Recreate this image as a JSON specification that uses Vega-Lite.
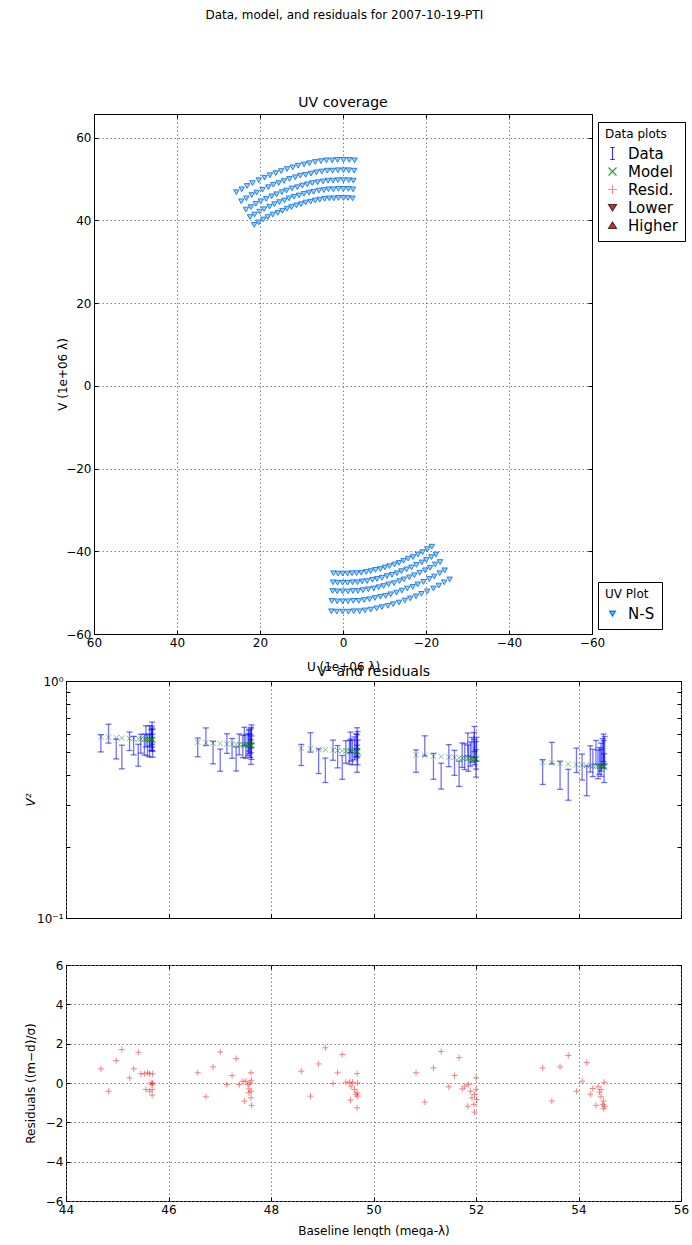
{
"$schema": "https://vega.github.io/schema/vega-lite/v6.json",
"background": "white",
"padding": {"left": 23, "top": 8, "right": 0, "bottom": 0},
"title": {"text": "Data, model, and residuals for 2007-10-19-PTI", "fontSize": 12, "fontWeight": "normal", "anchor": "middle", "offset": 74, "dx": -12},
"config": {
  "font": "DejaVu Sans",
  "view": {"stroke": "#000", "strokeWidth": 1},
  "axis": {"domain": false, "domainColor": "#000", "domainWidth": 1, "tickColor": "#000", "tickSize": -4, "labelPadding": 7, "labelFontSize": 12, "labelColor": "#000", "titleFontSize": 12, "titleFontWeight": "normal", "titleColor": "#000", "gridColor": "#777", "gridDash": [1.5, 2.5], "gridOpacity": 0.9, "labelFlush": false, "labelOverlap": false},
  "title": {"fontWeight": "normal", "fontSize": 14, "color": "#000"}
},
"datasets": {
"uv": [
{"u":25.7,"v":46.8,"b":"N-S"},{"u":24.4,"v":47.5,"b":"N-S"},{"u":23.1,"v":48.3,"b":"N-S"},{"u":21.8,"v":49.0,"b":"N-S"},{"u":20.3,"v":49.7,"b":"N-S"},{"u":18.9,"v":50.3,"b":"N-S"},{"u":17.6,"v":50.9,"b":"N-S"},{"u":16.2,"v":51.4,"b":"N-S"},{"u":14.9,"v":51.9,"b":"N-S"},{"u":13.5,"v":52.4,"b":"N-S"},{"u":12.1,"v":52.8,"b":"N-S"},{"u":10.8,"v":53.2,"b":"N-S"},{"u":9.4,"v":53.5,"b":"N-S"},{"u":8.1,"v":53.8,"b":"N-S"},{"u":6.7,"v":54.1,"b":"N-S"},{"u":5.3,"v":54.3,"b":"N-S"},{"u":4.0,"v":54.5,"b":"N-S"},{"u":2.6,"v":54.5,"b":"N-S"},{"u":1.3,"v":54.6,"b":"N-S"},{"u":-0.1,"v":54.6,"b":"N-S"},{"u":-1.5,"v":54.6,"b":"N-S"},{"u":-2.8,"v":54.5,"b":"N-S"},
{"u":24.5,"v":44.6,"b":"N-S"},{"u":23.3,"v":45.3,"b":"N-S"},{"u":22.0,"v":46.1,"b":"N-S"},{"u":20.8,"v":46.7,"b":"N-S"},{"u":19.4,"v":47.4,"b":"N-S"},{"u":18.0,"v":48.0,"b":"N-S"},{"u":16.8,"v":48.6,"b":"N-S"},{"u":15.5,"v":49.0,"b":"N-S"},{"u":14.2,"v":49.5,"b":"N-S"},{"u":12.9,"v":50.0,"b":"N-S"},{"u":11.5,"v":50.4,"b":"N-S"},{"u":10.3,"v":50.8,"b":"N-S"},{"u":9.0,"v":51.0,"b":"N-S"},{"u":7.7,"v":51.3,"b":"N-S"},{"u":6.4,"v":51.6,"b":"N-S"},{"u":5.1,"v":51.8,"b":"N-S"},{"u":3.8,"v":52.0,"b":"N-S"},{"u":2.5,"v":52.0,"b":"N-S"},{"u":1.2,"v":52.1,"b":"N-S"},{"u":-0.1,"v":52.1,"b":"N-S"},{"u":-1.4,"v":52.1,"b":"N-S"},{"u":-2.7,"v":52.0,"b":"N-S"},
{"u":23.4,"v":42.6,"b":"N-S"},{"u":22.2,"v":43.2,"b":"N-S"},{"u":21.0,"v":44.0,"b":"N-S"},{"u":19.8,"v":44.6,"b":"N-S"},{"u":18.5,"v":45.2,"b":"N-S"},{"u":17.2,"v":45.8,"b":"N-S"},{"u":16.0,"v":46.3,"b":"N-S"},{"u":14.7,"v":46.8,"b":"N-S"},{"u":13.6,"v":47.2,"b":"N-S"},{"u":12.3,"v":47.7,"b":"N-S"},{"u":11.0,"v":48.0,"b":"N-S"},{"u":9.8,"v":48.4,"b":"N-S"},{"u":8.6,"v":48.7,"b":"N-S"},{"u":7.4,"v":49.0,"b":"N-S"},{"u":6.1,"v":49.2,"b":"N-S"},{"u":4.8,"v":49.4,"b":"N-S"},{"u":3.6,"v":49.6,"b":"N-S"},{"u":2.4,"v":49.6,"b":"N-S"},{"u":1.2,"v":49.7,"b":"N-S"},{"u":-0.1,"v":49.7,"b":"N-S"},{"u":-1.4,"v":49.7,"b":"N-S"},{"u":-2.5,"v":49.6,"b":"N-S"},
{"u":22.4,"v":40.8,"b":"N-S"},{"u":21.3,"v":41.4,"b":"N-S"},{"u":20.1,"v":42.1,"b":"N-S"},{"u":19.0,"v":42.7,"b":"N-S"},{"u":17.7,"v":43.3,"b":"N-S"},{"u":16.5,"v":43.9,"b":"N-S"},{"u":15.3,"v":44.4,"b":"N-S"},{"u":14.1,"v":44.8,"b":"N-S"},{"u":13.0,"v":45.3,"b":"N-S"},{"u":11.8,"v":45.7,"b":"N-S"},{"u":10.6,"v":46.0,"b":"N-S"},{"u":9.4,"v":46.4,"b":"N-S"},{"u":8.2,"v":46.7,"b":"N-S"},{"u":7.1,"v":46.9,"b":"N-S"},{"u":5.8,"v":47.2,"b":"N-S"},{"u":4.6,"v":47.3,"b":"N-S"},{"u":3.5,"v":47.5,"b":"N-S"},{"u":2.3,"v":47.5,"b":"N-S"},{"u":1.1,"v":47.6,"b":"N-S"},{"u":-0.1,"v":47.6,"b":"N-S"},{"u":-1.3,"v":47.6,"b":"N-S"},{"u":-2.4,"v":47.5,"b":"N-S"},
{"u":21.4,"v":38.9,"b":"N-S"},{"u":20.3,"v":39.5,"b":"N-S"},{"u":19.2,"v":40.2,"b":"N-S"},{"u":18.1,"v":40.8,"b":"N-S"},{"u":16.9,"v":41.4,"b":"N-S"},{"u":15.7,"v":41.8,"b":"N-S"},{"u":14.6,"v":42.3,"b":"N-S"},{"u":13.5,"v":42.8,"b":"N-S"},{"u":12.4,"v":43.2,"b":"N-S"},{"u":11.2,"v":43.6,"b":"N-S"},{"u":10.1,"v":43.9,"b":"N-S"},{"u":9.0,"v":44.3,"b":"N-S"},{"u":7.8,"v":44.5,"b":"N-S"},{"u":6.7,"v":44.8,"b":"N-S"},{"u":5.6,"v":45.0,"b":"N-S"},{"u":4.4,"v":45.2,"b":"N-S"},{"u":3.3,"v":45.3,"b":"N-S"},{"u":2.2,"v":45.3,"b":"N-S"},{"u":1.1,"v":45.4,"b":"N-S"},{"u":-0.1,"v":45.4,"b":"N-S"},{"u":-1.2,"v":45.4,"b":"N-S"},{"u":-2.3,"v":45.3,"b":"N-S"},
{"u":-25.7,"v":-46.8,"b":"N-S"},{"u":-24.4,"v":-47.5,"b":"N-S"},{"u":-23.1,"v":-48.3,"b":"N-S"},{"u":-21.8,"v":-49.0,"b":"N-S"},{"u":-20.3,"v":-49.7,"b":"N-S"},{"u":-18.9,"v":-50.3,"b":"N-S"},{"u":-17.6,"v":-50.9,"b":"N-S"},{"u":-16.2,"v":-51.4,"b":"N-S"},{"u":-14.9,"v":-51.9,"b":"N-S"},{"u":-13.5,"v":-52.4,"b":"N-S"},{"u":-12.1,"v":-52.8,"b":"N-S"},{"u":-10.8,"v":-53.2,"b":"N-S"},{"u":-9.4,"v":-53.5,"b":"N-S"},{"u":-8.1,"v":-53.8,"b":"N-S"},{"u":-6.7,"v":-54.1,"b":"N-S"},{"u":-5.3,"v":-54.3,"b":"N-S"},{"u":-4.0,"v":-54.5,"b":"N-S"},{"u":-2.6,"v":-54.5,"b":"N-S"},{"u":-1.3,"v":-54.6,"b":"N-S"},{"u":0.1,"v":-54.6,"b":"N-S"},{"u":1.5,"v":-54.6,"b":"N-S"},{"u":2.8,"v":-54.5,"b":"N-S"},
{"u":-24.5,"v":-44.6,"b":"N-S"},{"u":-23.3,"v":-45.3,"b":"N-S"},{"u":-22.0,"v":-46.1,"b":"N-S"},{"u":-20.8,"v":-46.7,"b":"N-S"},{"u":-19.4,"v":-47.4,"b":"N-S"},{"u":-18.0,"v":-48.0,"b":"N-S"},{"u":-16.8,"v":-48.6,"b":"N-S"},{"u":-15.5,"v":-49.0,"b":"N-S"},{"u":-14.2,"v":-49.5,"b":"N-S"},{"u":-12.9,"v":-50.0,"b":"N-S"},{"u":-11.5,"v":-50.4,"b":"N-S"},{"u":-10.3,"v":-50.8,"b":"N-S"},{"u":-9.0,"v":-51.0,"b":"N-S"},{"u":-7.7,"v":-51.3,"b":"N-S"},{"u":-6.4,"v":-51.6,"b":"N-S"},{"u":-5.1,"v":-51.8,"b":"N-S"},{"u":-3.8,"v":-52.0,"b":"N-S"},{"u":-2.5,"v":-52.0,"b":"N-S"},{"u":-1.2,"v":-52.1,"b":"N-S"},{"u":0.1,"v":-52.1,"b":"N-S"},{"u":1.4,"v":-52.1,"b":"N-S"},{"u":2.7,"v":-52.0,"b":"N-S"},
{"u":-23.4,"v":-42.6,"b":"N-S"},{"u":-22.2,"v":-43.2,"b":"N-S"},{"u":-21.0,"v":-44.0,"b":"N-S"},{"u":-19.8,"v":-44.6,"b":"N-S"},{"u":-18.5,"v":-45.2,"b":"N-S"},{"u":-17.2,"v":-45.8,"b":"N-S"},{"u":-16.0,"v":-46.3,"b":"N-S"},{"u":-14.7,"v":-46.8,"b":"N-S"},{"u":-13.6,"v":-47.2,"b":"N-S"},{"u":-12.3,"v":-47.7,"b":"N-S"},{"u":-11.0,"v":-48.0,"b":"N-S"},{"u":-9.8,"v":-48.4,"b":"N-S"},{"u":-8.6,"v":-48.7,"b":"N-S"},{"u":-7.4,"v":-49.0,"b":"N-S"},{"u":-6.1,"v":-49.2,"b":"N-S"},{"u":-4.8,"v":-49.4,"b":"N-S"},{"u":-3.6,"v":-49.6,"b":"N-S"},{"u":-2.4,"v":-49.6,"b":"N-S"},{"u":-1.2,"v":-49.7,"b":"N-S"},{"u":0.1,"v":-49.7,"b":"N-S"},{"u":1.4,"v":-49.7,"b":"N-S"},{"u":2.5,"v":-49.6,"b":"N-S"},
{"u":-22.4,"v":-40.8,"b":"N-S"},{"u":-21.3,"v":-41.4,"b":"N-S"},{"u":-20.1,"v":-42.1,"b":"N-S"},{"u":-19.0,"v":-42.7,"b":"N-S"},{"u":-17.7,"v":-43.3,"b":"N-S"},{"u":-16.5,"v":-43.9,"b":"N-S"},{"u":-15.3,"v":-44.4,"b":"N-S"},{"u":-14.1,"v":-44.8,"b":"N-S"},{"u":-13.0,"v":-45.3,"b":"N-S"},{"u":-11.8,"v":-45.7,"b":"N-S"},{"u":-10.6,"v":-46.0,"b":"N-S"},{"u":-9.4,"v":-46.4,"b":"N-S"},{"u":-8.2,"v":-46.7,"b":"N-S"},{"u":-7.1,"v":-46.9,"b":"N-S"},{"u":-5.8,"v":-47.2,"b":"N-S"},{"u":-4.6,"v":-47.3,"b":"N-S"},{"u":-3.5,"v":-47.5,"b":"N-S"},{"u":-2.3,"v":-47.5,"b":"N-S"},{"u":-1.1,"v":-47.6,"b":"N-S"},{"u":0.1,"v":-47.6,"b":"N-S"},{"u":1.3,"v":-47.6,"b":"N-S"},{"u":2.4,"v":-47.5,"b":"N-S"},
{"u":-21.4,"v":-38.9,"b":"N-S"},{"u":-20.3,"v":-39.5,"b":"N-S"},{"u":-19.2,"v":-40.2,"b":"N-S"},{"u":-18.1,"v":-40.8,"b":"N-S"},{"u":-16.9,"v":-41.4,"b":"N-S"},{"u":-15.7,"v":-41.8,"b":"N-S"},{"u":-14.6,"v":-42.3,"b":"N-S"},{"u":-13.5,"v":-42.8,"b":"N-S"},{"u":-12.4,"v":-43.2,"b":"N-S"},{"u":-11.2,"v":-43.6,"b":"N-S"},{"u":-10.1,"v":-43.9,"b":"N-S"},{"u":-9.0,"v":-44.3,"b":"N-S"},{"u":-7.8,"v":-44.5,"b":"N-S"},{"u":-6.7,"v":-44.8,"b":"N-S"},{"u":-5.6,"v":-45.0,"b":"N-S"},{"u":-4.4,"v":-45.2,"b":"N-S"},{"u":-3.3,"v":-45.3,"b":"N-S"},{"u":-2.2,"v":-45.3,"b":"N-S"},{"u":-1.1,"v":-45.4,"b":"N-S"},{"u":0.1,"v":-45.4,"b":"N-S"},{"u":1.2,"v":-45.4,"b":"N-S"},{"u":2.3,"v":-45.3,"b":"N-S"}
],
"pts": [
{"B":44.68,"V2":0.548,"err":0.046,"M":0.581,"R":0.72},
{"B":44.83,"V2":0.602,"err":0.055,"M":0.579,"R":-0.42},
{"B":44.98,"V2":0.519,"err":0.050,"M":0.576,"R":1.14},
{"B":45.09,"V2":0.481,"err":0.055,"M":0.575,"R":1.70},
{"B":45.24,"V2":0.559,"err":0.050,"M":0.572,"R":0.26},
{"B":45.32,"V2":0.536,"err":0.048,"M":0.571,"R":0.72},
{"B":45.41,"V2":0.489,"err":0.052,"M":0.570,"R":1.56},
{"B":45.46,"V2":0.546,"err":0.050,"M":0.569,"R":0.47},
{"B":45.53,"V2":0.542,"err":0.055,"M":0.568,"R":0.47},
{"B":45.56,"V2":0.587,"err":0.060,"M":0.567,"R":-0.33},
{"B":45.59,"V2":0.538,"err":0.055,"M":0.567,"R":0.52},
{"B":45.63,"V2":0.538,"err":0.060,"M":0.566,"R":0.47},
{"B":45.66,"V2":0.566,"err":0.058,"M":0.566,"R":0.0},
{"B":45.68,"V2":0.571,"err":0.062,"M":0.566,"R":-0.08},
{"B":45.68,"V2":0.586,"err":0.060,"M":0.566,"R":-0.33},
{"B":45.68,"V2":0.606,"err":0.065,"M":0.566,"R":-0.62},
{"B":45.69,"V2":0.537,"err":0.060,"M":0.565,"R":0.47},
{"B":45.63,"V2":0.590,"err":0.058,"M":0.566,"R":-0.42},
{"B":45.69,"V2":0.565,"err":0.060,"M":0.565,"R":0.0},
{"B":46.57,"V2":0.527,"err":0.048,"M":0.552,"R":0.52},
{"B":46.73,"V2":0.584,"err":0.050,"M":0.549,"R":-0.70},
{"B":46.87,"V2":0.502,"err":0.055,"M":0.547,"R":0.82},
{"B":47.01,"V2":0.466,"err":0.050,"M":0.545,"R":1.58},
{"B":47.14,"V2":0.547,"err":0.052,"M":0.543,"R":-0.08},
{"B":47.24,"V2":0.522,"err":0.050,"M":0.541,"R":0.38},
{"B":47.32,"V2":0.472,"err":0.055,"M":0.540,"R":1.24},
{"B":47.38,"V2":0.543,"err":0.055,"M":0.539,"R":-0.08},
{"B":47.45,"V2":0.533,"err":0.058,"M":0.538,"R":0.09},
{"B":47.48,"V2":0.586,"err":0.052,"M":0.538,"R":-0.92},
{"B":47.51,"V2":0.532,"err":0.060,"M":0.537,"R":0.09},
{"B":47.55,"V2":0.542,"err":0.058,"M":0.537,"R":-0.08},
{"B":47.57,"V2":0.566,"err":0.060,"M":0.536,"R":-0.50},
{"B":47.57,"V2":0.555,"err":0.062,"M":0.536,"R":-0.30},
{"B":47.61,"V2":0.505,"err":0.060,"M":0.536,"R":0.52},
{"B":47.61,"V2":0.563,"err":0.065,"M":0.536,"R":-0.42},
{"B":47.62,"V2":0.527,"err":0.060,"M":0.535,"R":0.14},
{"B":47.61,"V2":0.579,"err":0.058,"M":0.536,"R":-0.75},
{"B":47.62,"V2":0.598,"err":0.055,"M":0.535,"R":-1.14},
{"B":47.59,"V2":0.536,"err":0.060,"M":0.536,"R":0.0},
{"B":48.59,"V2":0.490,"err":0.050,"M":0.520,"R":0.60},
{"B":48.77,"V2":0.553,"err":0.052,"M":0.518,"R":-0.67},
{"B":48.93,"V2":0.462,"err":0.055,"M":0.515,"R":0.97},
{"B":49.06,"V2":0.423,"err":0.050,"M":0.513,"R":1.79},
{"B":49.21,"V2":0.513,"err":0.050,"M":0.511,"R":-0.03},
{"B":49.30,"V2":0.482,"err":0.052,"M":0.509,"R":0.52},
{"B":49.39,"V2":0.435,"err":0.050,"M":0.508,"R":1.45},
{"B":49.46,"V2":0.505,"err":0.055,"M":0.507,"R":0.04},
{"B":49.53,"V2":0.504,"err":0.058,"M":0.506,"R":0.04},
{"B":49.56,"V2":0.514,"err":0.055,"M":0.505,"R":-0.16},
{"B":49.59,"V2":0.503,"err":0.060,"M":0.505,"R":0.04},
{"B":49.63,"V2":0.523,"err":0.058,"M":0.504,"R":-0.33},
{"B":49.66,"V2":0.539,"err":0.060,"M":0.504,"R":-0.58},
{"B":49.68,"V2":0.474,"err":0.062,"M":0.504,"R":0.48},
{"B":49.68,"V2":0.534,"err":0.060,"M":0.504,"R":-0.50},
{"B":49.69,"V2":0.547,"err":0.065,"M":0.503,"R":-0.67},
{"B":49.55,"V2":0.554,"err":0.055,"M":0.506,"R":-0.87},
{"B":49.68,"V2":0.577,"err":0.058,"M":0.504,"R":-1.26},
{"B":49.69,"V2":0.503,"err":0.060,"M":0.503,"R":0.0},
{"B":50.83,"V2":0.462,"err":0.050,"M":0.488,"R":0.52},
{"B":51.00,"V2":0.535,"err":0.052,"M":0.485,"R":-0.97},
{"B":51.17,"V2":0.440,"err":0.055,"M":0.482,"R":0.77},
{"B":51.32,"V2":0.400,"err":0.050,"M":0.480,"R":1.60},
{"B":51.47,"V2":0.487,"err":0.052,"M":0.477,"R":-0.19},
{"B":51.58,"V2":0.455,"err":0.055,"M":0.476,"R":0.38},
{"B":51.67,"V2":0.409,"err":0.050,"M":0.474,"R":1.29},
{"B":51.73,"V2":0.490,"err":0.058,"M":0.473,"R":-0.30},
{"B":51.78,"V2":0.483,"err":0.060,"M":0.473,"R":-0.16},
{"B":51.84,"V2":0.543,"err":0.060,"M":0.472,"R":-1.18},
{"B":51.85,"V2":0.476,"err":0.060,"M":0.471,"R":-0.08},
{"B":51.89,"V2":0.495,"err":0.058,"M":0.471,"R":-0.42},
{"B":51.92,"V2":0.516,"err":0.062,"M":0.470,"R":-0.75},
{"B":51.96,"V2":0.541,"err":0.065,"M":0.470,"R":-1.09},
{"B":51.97,"V2":0.573,"err":0.070,"M":0.469,"R":-1.48},
{"B":52.00,"V2":0.453,"err":0.060,"M":0.469,"R":0.26},
{"B":52.00,"V2":0.490,"err":0.065,"M":0.469,"R":-0.32},
{"B":52.01,"V2":0.519,"err":0.060,"M":0.469,"R":-0.84},
{"B":51.97,"V2":0.505,"err":0.062,"M":0.469,"R":-0.58},
{"B":53.30,"V2":0.416,"err":0.050,"M":0.454,"R":0.77},
{"B":53.48,"V2":0.499,"err":0.052,"M":0.451,"R":-0.92},
{"B":53.64,"V2":0.404,"err":0.055,"M":0.449,"R":0.82},
{"B":53.80,"V2":0.369,"err":0.055,"M":0.446,"R":1.40},
{"B":53.96,"V2":0.466,"err":0.055,"M":0.443,"R":-0.42},
{"B":54.07,"V2":0.437,"err":0.055,"M":0.442,"R":0.09},
{"B":54.16,"V2":0.383,"err":0.055,"M":0.440,"R":1.04},
{"B":54.23,"V2":0.473,"err":0.060,"M":0.439,"R":-0.57},
{"B":54.28,"V2":0.455,"err":0.060,"M":0.438,"R":-0.28},
{"B":54.34,"V2":0.503,"err":0.058,"M":0.437,"R":-1.14},
{"B":54.38,"V2":0.449,"err":0.062,"M":0.437,"R":-0.19},
{"B":54.41,"V2":0.464,"err":0.060,"M":0.436,"R":-0.47},
{"B":54.44,"V2":0.482,"err":0.065,"M":0.436,"R":-0.70},
{"B":54.47,"V2":0.506,"err":0.065,"M":0.435,"R":-1.09},
{"B":54.49,"V2":0.527,"err":0.070,"M":0.435,"R":-1.31},
{"B":54.50,"V2":0.433,"err":0.060,"M":0.435,"R":0.04},
{"B":54.49,"V2":0.495,"err":0.065,"M":0.435,"R":-0.92},
{"B":54.51,"V2":0.515,"err":0.068,"M":0.435,"R":-1.18},
{"B":54.44,"V2":0.456,"err":0.060,"M":0.436,"R":-0.33}
]
},
"bounds": "flush",
"spacing": 47,
"vconcat": [
 {
  "width": 526, "height": 520,
  "view": {"stroke": null},
  "title": {"text": "UV coverage", "fontSize": 14, "offset": 4, "dx": 14},
  "layer": [
   {
    "data": {"name": "uv"},
    "mark": {"type": "point", "filled": true, "size": 30, "strokeWidth": 0.9, "opacity": 1, "clip": true},
    "encoding": {
     "x": {"field": "u", "type": "quantitative", "scale": {"domain": [60, -60], "range": [28, 526], "nice": false, "zero": false}, "axis": {"orient": "bottom", "domain": true, "values": [60, 40, 20, 0, -20, -40, -60], "grid": true, "title": "U (1e+06 λ)", "titlePadding": 13}},
     "y": {"field": "v", "type": "quantitative", "scale": {"domain": [-60, 65.7], "nice": false, "zero": false}, "axis": {"orient": "left", "offset": -28, "domain": true, "values": [-60, -40, -20, 0, 20, 40, 60], "grid": true, "title": "V (1e+06 λ)", "titleX": -25, "titleY": 260}},
     "shape": {"field": "b", "type": "nominal", "scale": {"domain": ["N-S"], "range": ["triangle-down"]}, "legend": {"title": "UV Plot", "orient": "none", "legendX": 532, "legendY": 468, "titleFontSize": 12, "titleFontWeight": "normal", "titleColor": "#000", "labelFontSize": 15, "labelColor": "#000", "strokeColor": "#000", "fillColor": "#fff", "padding": 7, "symbolSize": 30, "labelOffset": 8}},
     "fill": {"field": "b", "type": "nominal", "scale": {"domain": ["N-S"], "range": ["#9ccdff"]}},
     "stroke": {"field": "b", "type": "nominal", "scale": {"domain": ["N-S"], "range": ["#1778e6"]}}
    }
   },
   {
    "data": {"values": [{"p": "Data", "u": 200, "v": 200}, {"p": "Model", "u": 200, "v": 200}, {"p": "Resid.", "u": 200, "v": 200}, {"p": "Lower", "u": 200, "v": 200}, {"p": "Higher", "u": 200, "v": 200}]},
    "mark": {"type": "point", "filled": true, "size": 45, "strokeWidth": 1.2, "opacity": 1, "clip": true},
    "encoding": {
     "x": {"field": "u", "type": "quantitative", "axis": {"orient": "top", "domain": true, "values": [60, 40, 20, 0, -20, -40, -60], "labels": false, "grid": false, "title": null}},
     "y": {"field": "v", "type": "quantitative", "axis": {"orient": "right", "domain": true, "values": [-60, -40, -20, 0, 20, 40, 60], "labels": false, "grid": false, "title": null}},
     "shape": {"field": "p", "type": "nominal", "scale": {"domain": ["Data", "Model", "Resid.", "Lower", "Higher"], "range": ["M0,-1.2L0,1.2M-0.45,-1.2L0.45,-1.2M-0.45,1.2L0.45,1.2", "M-0.8,-0.8L0.8,0.8M-0.8,0.8L0.8,-0.8", "M-0.9,0L0.9,0M0,-0.9L0,0.9", "M-0.8,-0.6L0.8,-0.6L0,0.7Z", "M-0.8,0.6L0.8,0.6L0,-0.7Z"]}, "legend": {"title": "Data plots", "orient": "none", "legendX": 532, "legendY": 8, "titleFontSize": 12, "titleFontWeight": "normal", "titleColor": "#000", "labelFontSize": 15, "labelColor": "#000", "strokeColor": "#000", "fillColor": "#fff", "padding": 7, "rowPadding": 2, "symbolStrokeWidth": 1.1, "labelOffset": 8}},
     "fill": {"field": "p", "type": "nominal", "scale": {"domain": ["Data", "Model", "Resid.", "Lower", "Higher"], "range": ["transparent", "transparent", "transparent", "#e8261c", "#e8261c"]}},
     "stroke": {"field": "p", "type": "nominal", "scale": {"domain": ["Data", "Model", "Resid.", "Lower", "Higher"], "range": ["#3030ff", "#2e9a2e", "#ff8a8a", "#333333", "#333333"]}}
    }
   }
  ],
  "resolve": {"scale": {"shape": "independent", "fill": "independent", "stroke": "independent"}, "axis": {"x": "independent", "y": "independent"}}
 },
 {
  "width": 615, "height": 237,
  "title": {"text": "V² and residuals", "fontSize": 14, "offset": 5, "dy": 9},
  "data": {"name": "pts"},
  "layer": [
   {
    "mark": {"type": "errorbar", "ticks": {"size": 6}, "color": "#0000ff", "opacity": 0.55, "thickness": 1.3},
    "encoding": {
     "x": {"field": "B", "type": "quantitative", "scale": {"domain": [44, 56], "nice": false, "zero": false}, "axis": {"values": [44, 46, 48, 50, 52, 54, 56], "labels": false, "grid": true, "title": null}},
     "y": {"field": "V2", "type": "quantitative", "scale": {"type": "log", "domain": [0.1, 1], "nice": false}, "axis": {"values": [0.1, 0.2, 0.3, 0.4, 0.5, 0.6, 0.7, 0.8, 0.9, 1], "labelExpr": "datum.value > 0.99 ? '10⁰' : (datum.value < 0.101 ? '10⁻¹' : '')", "grid": false, "title": "V²", "titleFontStyle": "italic", "titleX": -29, "titleY": 118.5}},
     "yError": {"field": "err"}
    }
   },
   {
    "mark": {"type": "point", "shape": "M-1,-1L1,1M-1,1L1,-1", "size": 30, "color": "#008000", "strokeWidth": 1, "opacity": 0.45, "filled": false},
    "encoding": {
     "x": {"field": "B", "type": "quantitative", "axis": {"orient": "top", "values": [44, 46, 48, 50, 52, 54, 56], "labels": false, "grid": false, "title": null}},
     "y": {"field": "M", "type": "quantitative", "axis": {"orient": "right", "values": [0.1, 0.2, 0.3, 0.4, 0.5, 0.6, 0.7, 0.8, 0.9, 1], "labels": false, "grid": false, "title": null}}
    }
   }
  ],
  "resolve": {"axis": {"x": "independent", "y": "independent"}}
 },
 {
  "width": 615, "height": 236,
  "data": {"name": "pts"},
  "layer": [
   {
    "mark": {"type": "point", "shape": "M-1,0L1,0M0,-1L0,1", "size": 36, "color": "#ff0000", "strokeWidth": 1, "opacity": 0.5, "filled": false},
    "encoding": {
     "x": {"field": "B", "type": "quantitative", "scale": {"domain": [44, 56], "nice": false, "zero": false}, "axis": {"values": [44, 46, 48, 50, 52, 54, 56], "grid": true, "title": "Baseline length (mega-λ)", "titlePadding": 10}},
     "y": {"field": "R", "type": "quantitative", "scale": {"domain": [-6, 6], "nice": false}, "axis": {"values": [-6, -4, -2, 0, 2, 4, 6], "grid": true, "title": "Residuals ((m−d)/σ)", "titleX": -29, "titleY": 118}}
    }
   },
   {
    "mark": {"type": "point", "opacity": 0, "size": 1},
    "encoding": {
     "x": {"field": "B", "type": "quantitative", "axis": {"orient": "top", "values": [44, 46, 48, 50, 52, 54, 56], "labels": false, "grid": false, "title": null}},
     "y": {"field": "R", "type": "quantitative", "axis": {"orient": "right", "values": [-6, -4, -2, 0, 2, 4, 6], "labels": false, "grid": false, "title": null}}
    }
   }
  ],
  "resolve": {"axis": {"x": "independent", "y": "independent"}}
 }
]
}
